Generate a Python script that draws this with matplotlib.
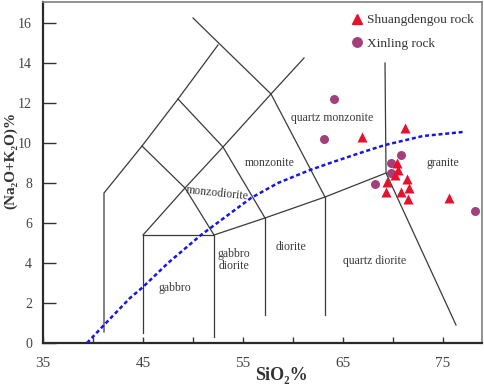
import matplotlib
matplotlib.use("Agg")
import matplotlib.pyplot as plt
from matplotlib.lines import Line2D

plt.rcParams['font.family'] = ['Liberation Serif', 'DejaVu Serif']

# ---- sample data (SiO2 %, Na2O+K2O %) ----
shuang_x = [66.9, 71.2, 70.4, 70.5, 70.2, 71.4, 69.4, 71.6, 69.3, 70.8, 71.5, 75.6]
shuang_y = [10.3, 10.75, 9.0, 8.65, 8.4, 8.2, 8.05, 7.75, 7.55, 7.55, 7.2, 7.25]
xinling_x = [64.1, 63.1, 70.8, 69.8, 69.8, 68.2, 78.2]
xinling_y = [12.2, 10.2, 9.4, 9.0, 8.5, 7.95, 6.6]

# ---- classification boundaries ----
outer_x = [41.1, 41.1, 44.9, 48.5, 52.5]
outer_y = [0.55, 7.5, 9.85, 12.2, 14.9]
top_x = [50.0, 57.8, 63.2]
top_y = [16.25, 12.45, 7.3]
diagB_x = [45.0, 49.2, 53.0, 57.8, 61.1]
diagB_y = [5.4, 7.75, 9.8, 12.45, 14.25]
diagA_x = [44.9, 49.2, 52.1]
diagA_y = [9.85, 7.75, 5.4]
mid_x = [48.5, 53.0, 57.2]
mid_y = [12.2, 9.8, 6.25]
base_x = [52.1, 57.2, 63.2, 69.3]
base_y = [5.4, 6.25, 7.3, 8.5]
gabbro_x = [45.0, 45.0, 52.1, 52.1]
gabbro_y = [0.5, 5.4, 5.4, 0.3]
v57_x = [57.2, 57.2]
v57_y = [6.25, 1.4]
v63_x = [63.2, 63.2]
v63_y = [7.3, 1.4]
granite_x = [69.2, 69.3, 76.3]
granite_y = [14.0, 8.5, 0.9]

# alkaline / subalkaline divide
div_x = [39.4, 41.1, 43.7, 45.0, 47.5, 50.8, 53.5, 55.8, 58.5, 61.7, 64.0, 67.0, 69.2, 73.0, 77.0]
div_y = [0.0, 0.9, 2.25, 2.8, 4.0, 5.4, 6.4, 7.25, 8.0, 8.65, 9.05, 9.55, 9.9, 10.35, 10.55]

# ---- region labels ----
region_names = ["quartz monzonite", "monzonite", "monzodiorite", "gabbro\ndiorite",
                "gabbro", "diorite", "quartz diorite", "granite"]
region_x = [63.9, 57.7, 52.4, 54.1, 48.2, 59.8, 68.2, 75.0]
region_y = [11.25, 9.0, 7.5, 4.15, 2.75, 4.8, 4.1, 9.0]
region_rot = [0, 0, -6, 0, 0, 0, 0, 0]

x_major = [35, 45, 55, 65, 75]
x_minor = [40, 50, 60, 70]
y_ticks = [0, 2, 4, 6, 8, 10, 12, 14, 16]

fig = plt.figure(figsize=(4.84, 3.88), dpi=100)
ax = fig.add_axes([43/484, 45/388, 439/484, 341/388])
ax.set_xlim(35, 78.9)
ax.set_ylim(0, 17.05)

line_kw = dict(color='#3a3a3a', lw=0.9, zorder=2)
for xs, ys in [(outer_x, outer_y), (top_x, top_y), (diagB_x, diagB_y), (diagA_x, diagA_y),
               (mid_x, mid_y), (base_x, base_y), (gabbro_x, gabbro_y), (v57_x, v57_y),
               (v63_x, v63_y), (granite_x, granite_y)]:
    ax.plot(xs, ys, **line_kw)

ax.plot(div_x, div_y, color='#1515e6', lw=1.8, linestyle=(0, (1.6, 1.1)), zorder=3)

for name, x, y, r in zip(region_names, region_x, region_y, region_rot):
    ax.text(x, y, name, ha='center', va='center', fontsize=8.5, color='#3a3a3a',
            rotation=r, linespacing=1.0, zorder=4)

red = '#e8112d'
purple = '#a3407b'
ax.scatter(xinling_x, xinling_y, marker='o', s=42, color=purple, zorder=5, linewidths=0)
ax.scatter(shuang_x, shuang_y, marker='^', s=52, color=red, zorder=6, linewidths=0)

handles = [Line2D([], [], marker='^', color=red, ls='none', markersize=7.5),
           Line2D([], [], marker='o', color=purple, ls='none', markersize=6.8)]
ax.legend(handles, ["Shuangdengou rock", "Xinling rock"], loc='upper left',
          bbox_to_anchor=(0.703, 0.965), frameon=False, borderpad=0, borderaxespad=0,
          handlelength=0.8, handletextpad=0.35, labelspacing=0.85, fontsize=9.6,
          labelcolor='#333333')

ax.set_xticks(x_major)
ax.set_xticks(x_minor, minor=True)
ax.set_yticks(y_ticks)
ax.tick_params(axis='x', which='both', direction='in', length=4, width=1,
               labelsize=11, pad=10, colors='#333333', labelcolor='#444444')
ax.tick_params(axis='y', direction='in', length=9, width=1,
               labelsize=10, pad=8, colors='#333333', labelcolor='#444444')

for side in ['left', 'bottom']:
    ax.spines[side].set_linewidth(1.6)
    ax.spines[side].set_color('#2a2a2a')
for side in ['top', 'right']:
    ax.spines[side].set_linewidth(1.2)
    ax.spines[side].set_color('#808080')

ax.set_xlabel('SiO\u2082%', fontsize=13, fontweight='bold', color='#333333')
ax.xaxis.set_label_coords(0.544, -0.07)
ax.set_ylabel('(Na\u2082O+K\u2082O)%', fontsize=11, fontweight='bold', color='#333333')
ax.yaxis.set_label_coords(-0.058, 0.535)

fig.savefig('out.png', dpi=100)
